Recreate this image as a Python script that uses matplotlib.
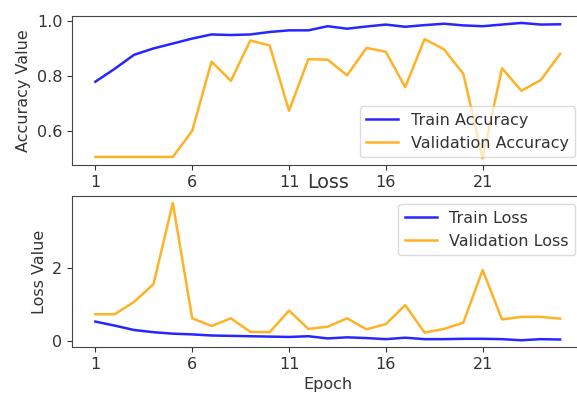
import matplotlib
matplotlib.use('Agg')
import matplotlib.pyplot as plt

# Training history values
epochs = list(range(1, 26))
train_acc = [0.779, 0.826, 0.877, 0.900, 0.918, 0.936, 0.951, 0.949, 0.951, 0.960,
             0.966, 0.966, 0.981, 0.972, 0.980, 0.987, 0.979, 0.985, 0.990, 0.984,
             0.981, 0.987, 0.993, 0.987, 0.988]
val_acc = [0.505, 0.505, 0.505, 0.505, 0.505, 0.600, 0.852, 0.782, 0.929, 0.911,
           0.673, 0.861, 0.859, 0.802, 0.902, 0.888, 0.759, 0.934, 0.897, 0.808,
           0.500, 0.828, 0.746, 0.785, 0.880]
train_loss = [0.53, 0.42, 0.30, 0.24, 0.20, 0.18, 0.15, 0.14, 0.13, 0.12,
              0.11, 0.13, 0.07, 0.10, 0.08, 0.05, 0.09, 0.05, 0.05, 0.06,
              0.06, 0.05, 0.02, 0.05, 0.04]
val_loss = [0.73, 0.73, 1.07, 1.55, 3.77, 0.62, 0.41, 0.62, 0.25, 0.24,
            0.83, 0.33, 0.39, 0.62, 0.32, 0.46, 0.98, 0.23, 0.33, 0.50,
            1.94, 0.59, 0.66, 0.66, 0.61]
xticks = list(range(1, 26, 5))

plt.rcParams['font.size'] = 11.5
plt.rcParams['text.color'] = '#333333'
plt.rcParams['axes.labelcolor'] = '#333333'
plt.rcParams['xtick.color'] = '#333333'
plt.rcParams['ytick.color'] = '#333333'
plt.rcParams['axes.edgecolor'] = '#444444'

fig = plt.figure(figsize=(5.77, 3.94), dpi=100)
ax1 = fig.add_axes([0.125, 0.581, 0.886, 0.378])
ax2 = fig.add_axes([0.125, 0.119, 0.886, 0.383])

#Accuracy plot
ax1.plot(epochs, train_acc, color='blue', lw=1.8, alpha=0.85, label='Train Accuracy')
ax1.plot(epochs, val_acc, color='orange', lw=1.8, alpha=0.85, label='Validation Accuracy')
ax1.set_xticks(xticks)
ax1.set_yticks([0.6, 0.8, 1.0])
ax1.set_ylabel('Accuracy Value')
ax1.legend(loc='lower right', framealpha=0.7)

#Loss plot
ax2.plot(epochs, train_loss, color='blue', lw=1.8, alpha=0.85, label='Train Loss')
ax2.plot(epochs, val_loss, color='orange', lw=1.8, alpha=0.85, label='Validation Loss')
ax2.set_xticks(xticks)
ax2.set_yticks([0, 2])
ax2.set_ylabel('Loss Value')
ax2.set_xlabel('Epoch')
ax2.set_title('Loss')
ax2.legend(loc='upper right', framealpha=0.7)

fig.savefig('out.png', dpi=100)
